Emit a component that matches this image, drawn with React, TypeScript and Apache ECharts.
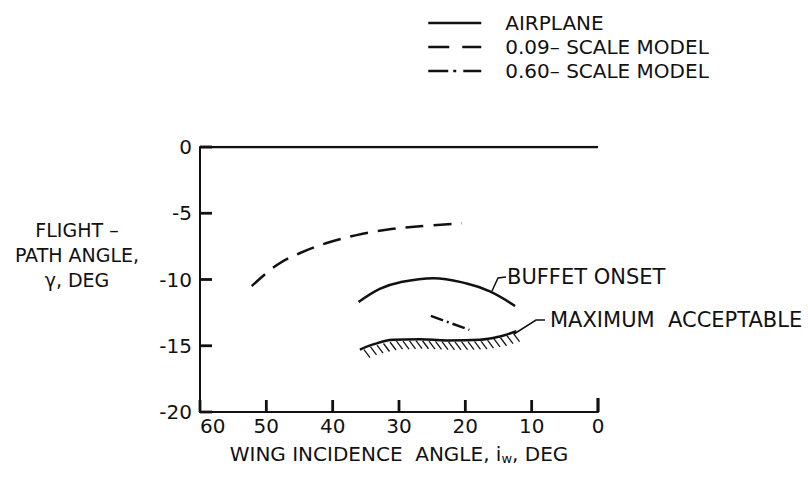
import React, { useEffect, useRef } from "react";
import * as echarts from "echarts";

// Axis ticks
const xTicks = [60, 50, 40, 30, 20, 10, 0];
const yTicks = [0, -5, -10, -15, -20];

// Series names
const legendNames = ["AIRPLANE", "0.09– SCALE MODEL", "0.60– SCALE MODEL"];

// Airplane (solid) — level line
const airplaneX = [60, 0];
const airplaneY = [0, 0];

// Airplane buffet onset
const buffetX = [36.1, 32.9, 29.8, 24.8, 19.8, 16.3, 12.5];
const buffetY = [-11.7, -10.7, -10.2, -9.9, -10.3, -10.9, -12.0];

// Airplane maximum acceptable
const maxAccX = [35.9, 33.9, 30.9, 26.8, 22.8, 17.8, 14.8, 12.3];
const maxAccY = [-15.3, -14.9, -14.55, -14.5, -14.6, -14.55, -14.3, -13.9];

// 0.09-scale model (dashed)
const m009X = [52.2, 48.4, 44.9, 40.9, 36.4, 31.9, 27.3, 20.5];
const m009Y = [-10.5, -8.9, -8.0, -7.25, -6.65, -6.25, -6.0, -5.75];

// 0.60-scale model (dash-dot)
const m060X = [25.2, 19.4];
const m060Y = [-12.75, -13.8];

const INK = "#111";
const FONT = "DejaVu Sans";

const W = 808;
const H = 481;
const GRID = { left: 200, right: 210, top: 147, bottom: 69 };
const TICK_PX = 12;

const zip = (xs: number[], ys: number[]) => xs.map((x, i) => [x, ys[i]]);

const dashType = [18, 10];
const dashDotType = [13, 4, 2, 4];

const hiddenSymbol = { color: "rgba(0,0,0,0)", opacity: 0, borderWidth: 0 };

export default function App() {
  const ref = useRef<HTMLDivElement>(null);
  useEffect(() => {
    const chart = echarts.init(ref.current!, null, { renderer: "svg" });
    const xInt = Math.abs(xTicks[0] - xTicks[1]);
    const yInt = Math.abs(yTicks[0] - yTicks[1]);
    const xMin = Math.min(...xTicks);
    const xMax = Math.max(...xTicks);
    const yMin = Math.min(...yTicks);
    const yMax = Math.max(...yTicks);
    const option: any = {
      animation: false,
      backgroundColor: "#fff",
      color: [INK, INK, INK, INK, INK, INK, INK, INK],
      textStyle: { fontFamily: FONT, color: INK },
      grid: GRID,
      legend: {
        orient: "vertical",
        left: 427,
        top: 13,
        padding: 0,
        itemWidth: 53,
        itemHeight: 12,
        itemGap: 4,
        selectedMode: false,
        itemStyle: hiddenSymbol,
        textStyle: { fontFamily: FONT, fontSize: 20, color: INK, lineHeight: 20, padding: [0, 0, 0, 19] },
        data: [
          { name: legendNames[0], itemStyle: hiddenSymbol, lineStyle: { type: "solid", width: 2.5, color: INK } },
          { name: legendNames[1], itemStyle: hiddenSymbol, lineStyle: { type: [21, 13], width: 2.5, color: INK } },
          { name: legendNames[2], itemStyle: hiddenSymbol, lineStyle: { type: [20, 5, 3, 7], width: 2.5, color: INK } },
        ],
      },
      xAxis: {
        type: "value",
        inverse: true,
        min: xMin,
        max: xMax,
        interval: xInt,
        name: "WING INCIDENCE  ANGLE, i{sub|w}, DEG",
        nameLocation: "middle",
        nameGap: 30,
        nameTextStyle: {
          fontFamily: FONT,
          fontSize: 20,
          color: INK,
          rich: { sub: { fontFamily: FONT, fontSize: 13, color: INK, padding: [10, 0, 0, 0] } },
        },
        axisLine: { show: true, onZero: false, lineStyle: { color: INK, width: 2 } },
        axisTick: { show: false },
        axisLabel: { fontFamily: FONT, fontSize: 20, color: INK, margin: 4, alignMaxLabel: "left" },
        splitLine: { show: false },
      },
      yAxis: {
        type: "value",
        min: yMin,
        max: yMax,
        interval: yInt,
        name: "FLIGHT –\nPATH ANGLE,\nγ, DEG\n \n ",
        nameLocation: "middle",
        nameRotate: 0,
        nameGap: 123,
        nameTextStyle: {
          fontFamily: FONT,
          fontSize: 19,
          color: INK,
          align: "center",
          verticalAlign: "middle",
          lineHeight: 25,
        },
        axisLine: { show: true, onZero: false, lineStyle: { color: INK, width: 2 } },
        axisTick: { show: false },
        axisLabel: { fontFamily: FONT, fontSize: 20, color: INK, margin: 8 },
        splitLine: { show: false },
      },
      series: [
        {
          type: "custom",
          name: "axis ticks",
          silent: true,
          clip: false,
          z: 5,
          data: [[xMin, yMin]],
          encode: { x: 0, y: 1 },
          renderItem: (params: any, api: any) => {
            const children: any[] = [];
            xTicks.forEach((x) => {
              const p = api.coord([x, yMin]);
              const isEnd = x === xMin;
              const len = isEnd ? TICK_PX + 2 : TICK_PX;
              children.push({
                type: "line",
                shape: { x1: p[0], y1: p[1], x2: p[0], y2: p[1] - len },
                style: { stroke: INK, lineWidth: isEnd ? 3.2 : 2.8 },
              });
            });
            yTicks.forEach((y) => {
              const p = api.coord([xMax, y]);
              children.push({
                type: "line",
                shape: { x1: p[0], y1: p[1], x2: p[0] + TICK_PX, y2: p[1] },
                style: { stroke: INK, lineWidth: 2.8 },
              });
            });
            return { type: "group", children };
          },
        },
        {
          type: "line",
          name: legendNames[0],
          data: zip(airplaneX, airplaneY),
          symbol: "none",
          itemStyle: { color: INK },
          lineStyle: { color: INK, width: 2.5, type: "solid" },
        },
        {
          type: "line",
          name: legendNames[0],
          data: zip(buffetX, buffetY),
          smooth: 0.4,
          symbol: "none",
          itemStyle: { color: INK },
          lineStyle: { color: INK, width: 2.5, type: "solid" },
        },
        {
          type: "line",
          name: legendNames[0],
          data: zip(maxAccX, maxAccY),
          smooth: 0.4,
          symbol: "none",
          itemStyle: { color: INK },
          lineStyle: { color: INK, width: 2.5, type: "solid" },
        },
        {
          type: "custom",
          name: "hatch",
          silent: true,
          data: maxAccX.slice(0, -1).map((x, i) => [x, maxAccY[i], maxAccX[i + 1], maxAccY[i + 1]]),
          encode: { x: [0, 2], y: [1, 3] },
          renderItem: (params: any, api: any) => {
            const p1 = api.coord([api.value(0), api.value(1)]);
            const p2 = api.coord([api.value(2), api.value(3)]);
            const step = 6.5;
            const children: any[] = [];
            const start = Math.ceil(p1[0] / step) * step;
            for (let x = start; x < p2[0]; x += step) {
              const t = (x - p1[0]) / (p2[0] - p1[0]);
              const y = p1[1] + t * (p2[1] - p1[1]);
              children.push({
                type: "line",
                shape: { x1: x, y1: y + 1.5, x2: x + 6, y2: y + 9.5 },
                style: { stroke: INK, lineWidth: 1.3 },
              });
            }
            return { type: "group", children };
          },
        },
        {
          type: "line",
          name: legendNames[1],
          data: zip(m009X, m009Y),
          smooth: 0.4,
          symbol: "none",
          itemStyle: { color: INK },
          lineStyle: { color: INK, width: 2.5, type: dashType },
        },
        {
          type: "line",
          name: legendNames[2],
          data: zip(m060X, m060Y),
          symbol: "none",
          itemStyle: { color: INK },
          lineStyle: { color: INK, width: 2.5, type: dashDotType },
        },
      ],
      graphic: [
        {
          type: "polyline",
          shape: { points: [[492, 291], [498, 278], [506, 277]] },
          style: { stroke: INK, lineWidth: 1.5, fill: "none" },
        },
        {
          type: "text",
          left: 507,
          top: 266,
          style: { text: "BUFFET ONSET", fontFamily: FONT, fontSize: 21, fill: INK },
        },
        {
          type: "polyline",
          shape: { points: [[514, 334], [536, 320], [545, 320]] },
          style: { stroke: INK, lineWidth: 1.5, fill: "none" },
        },
        {
          type: "text",
          left: 550,
          top: 309,
          style: { text: "MAXIMUM  ACCEPTABLE", fontFamily: FONT, fontSize: 21, fill: INK },
        },
      ],
    };
    chart.setOption(option);
    return () => chart.dispose();
  }, []);
  return (
    <div
      ref={ref}
      style={{ position: "fixed", left: 0, top: 0, width: W, height: H, background: "#fff" }}
    />
  );
}
